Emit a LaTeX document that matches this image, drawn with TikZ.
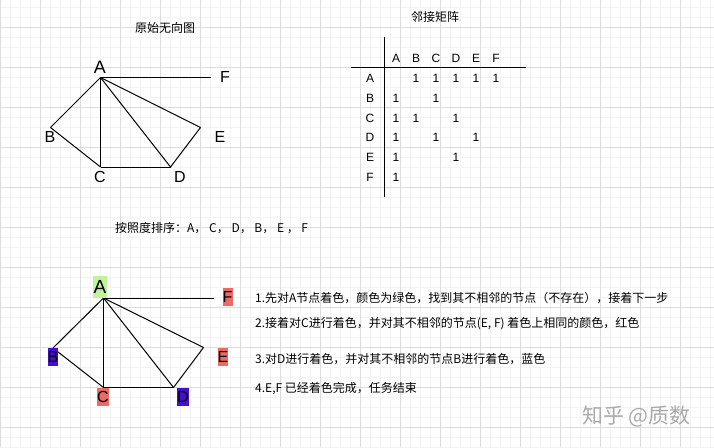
\documentclass[tikz,border=0pt]{standalone}
\usepackage{fontspec}
\setmainfont{Liberation Sans}
\newfontfamily\cjk{Noto Sans CJK SC}
\definecolor{gridmajor}{HTML}{DCDCDC}
\definecolor{gridminor}{HTML}{F3F3F3}
\definecolor{nodegreen}{HTML}{C2F29C}
\definecolor{nodered}{HTML}{EA6B66}
\definecolor{nodeblue}{HTML}{4410CC}
\definecolor{wmark}{HTML}{AAAAAA}
\begin{document}
\begin{tikzpicture}[x=1pt,y=-1pt,
  edge/.style={draw=black,line width=1pt},
  vlabel/.style={font=\fontsize{16}{16}\selectfont,inner sep=0pt},
  cbox/.style={inner sep=0pt,font=\fontsize{16}{16}\selectfont},
  mtxt/.style={font=\fontsize{12}{12}\selectfont,inner sep=0pt},
  ctxt/.style={font=\cjk\fontsize{12}{12}\selectfont,inner sep=0pt,anchor=west},
  ttl/.style={font=\cjk\fontsize{12}{12}\selectfont,inner sep=0pt},
]
\useasboundingbox (0,0) rectangle (714,447);
\fill[white] (0,0) rectangle (714,447);
% grid
\foreach \x in {0,10,...,710} \draw[gridminor,line width=0.8pt] (\x,0) -- (\x,447);
\foreach \y in {7,17,...,447} \draw[gridminor,line width=0.8pt] (0,\y) -- (714,\y);
\foreach \x in {0,40,...,680} \draw[gridmajor,line width=0.8pt] (\x,0) -- (\x,447);
\foreach \y in {27,67,...,427} \draw[gridmajor,line width=0.8pt] (0,\y) -- (714,\y);

% ---------- top graph ----------
\node[ttl] (t1) at (165,27.7) {原始无向图};
\coordinate (tA) at (100.5,77.5);
\coordinate (tF) at (210.5,77.5);
\coordinate (tB) at (50.5,127.5);
\coordinate (tC) at (100.5,167);
\coordinate (tD) at (170.5,167);
\coordinate (tE) at (200.5,127.5);
\draw[edge] (tA) -- (tF);
\draw[edge] (tA) -- (tB);
\draw[edge] (tA) -- (tC);
\draw[edge] (tA) -- (tD);
\draw[edge] (tA) -- (tE);
\draw[edge] (tB) -- (tC);
\draw[edge] (tC) -- (tD);
\draw[edge] (tD) -- (tE);
\node[vlabel,font=\fontsize{18}{18}\selectfont] (ltA) at (100,67) {A};
\node[vlabel] (ltF) at (225,76.7) {F};
\node[vlabel] (ltB) at (50,136.5) {B};
\node[vlabel] (ltC) at (100,176.7) {C};
\node[vlabel] (ltD) at (180,176.5) {D};
\node[vlabel] (ltE) at (220,136.7) {E};

% ---------- matrix ----------
\node[ttl] (t2) at (435,17.3) {邻接矩阵};
\coordinate (vt) at (384.5,37);
\coordinate (vb) at (384.5,197);
\coordinate (hl) at (351,67.5);
\coordinate (hr) at (526,67.5);
\draw[edge] (vt) -- (vb);
\draw[edge] (hl) -- (hr);
\foreach \l [count=\i from 0] in {A,B,C,D,E,F} {
  \node[mtxt] (ch\l) at (396+20*\i,58.3) {\l};
  \node[mtxt] (rh\l) at (370,78.3+19.8*\i) {\l};
}
\foreach \r/\c in {0/1,0/2,0/3,0/4,0/5,1/0,1/2,2/0,2/1,2/3,3/0,3/2,3/4,4/0,4/3,5/0}
  \node[mtxt] (m\r\c) at (396+20*\c,78.3+19.8*\r) {1};

% ---------- order text ----------
\node[ctxt] (ord) at (115,228.3) {按照度排序：A， C， D， B， E ， F};

% ---------- bottom graph ----------
\coordinate (bA) at (103.5,298);
\coordinate (bF) at (213.5,298);
\coordinate (bB) at (53,348);
\coordinate (bC) at (103.5,387.5);
\coordinate (bD) at (173.5,387.5);
\coordinate (bE) at (203.5,347.5);
\draw[edge] (bA) -- (bF);
\draw[edge] (bA) -- (bB);
\draw[edge] (bA) -- (bC);
\draw[edge] (bA) -- (bD);
\draw[edge] (bA) -- (bE);
\draw[edge] (bB) -- (bC);
\draw[edge] (bC) -- (bD);
\draw[edge] (bD) -- (bE);
\node[cbox,fill=nodegreen,minimum width=13.5pt,minimum height=22pt,font=\fontsize{19}{19}\selectfont] (lbA) at (100,287) {A};
\node[cbox,fill=nodered,minimum width=10pt,minimum height=17.5pt] (lbF) at (227.5,297) {F};
\node[cbox,fill=nodeblue,minimum width=9.5pt,minimum height=18pt] (lbB) at (53,356.5) {B};
\node[cbox,fill=nodered,minimum width=12.5pt,minimum height=18pt] (lbC) at (103,396.5) {C};
\node[cbox,fill=nodeblue,minimum width=12pt,minimum height=17.5pt] (lbD) at (183,397) {D};
\node[cbox,fill=nodered,minimum width=10pt,minimum height=17.5pt] (lbE) at (223,357) {E};

% ---------- steps ----------
\node[ctxt] (s1) at (255,298.3) {1.先对A节点着色，颜色为绿色，找到其不相邻的节点（不存在），接着下一步};
\node[ctxt] (s2) at (255,323.3) {2.接着对C进行着色，并对其不相邻的节点(E, F) 着色上相同的颜色，红色};
\node[ctxt] (s3) at (255,359) {3.对D进行着色，并对其不相邻的节点B进行着色，蓝色};
\node[ctxt] (s4) at (255,388.3) {4.E,F 已经着色完成，任务结束};

% ---------- watermark ----------
\node[font=\cjk\fontsize{21}{21}\selectfont,text=wmark,inner sep=0pt,anchor=west] (wm) at (582,416) {知乎 @质数};
\end{tikzpicture}
\end{document}
